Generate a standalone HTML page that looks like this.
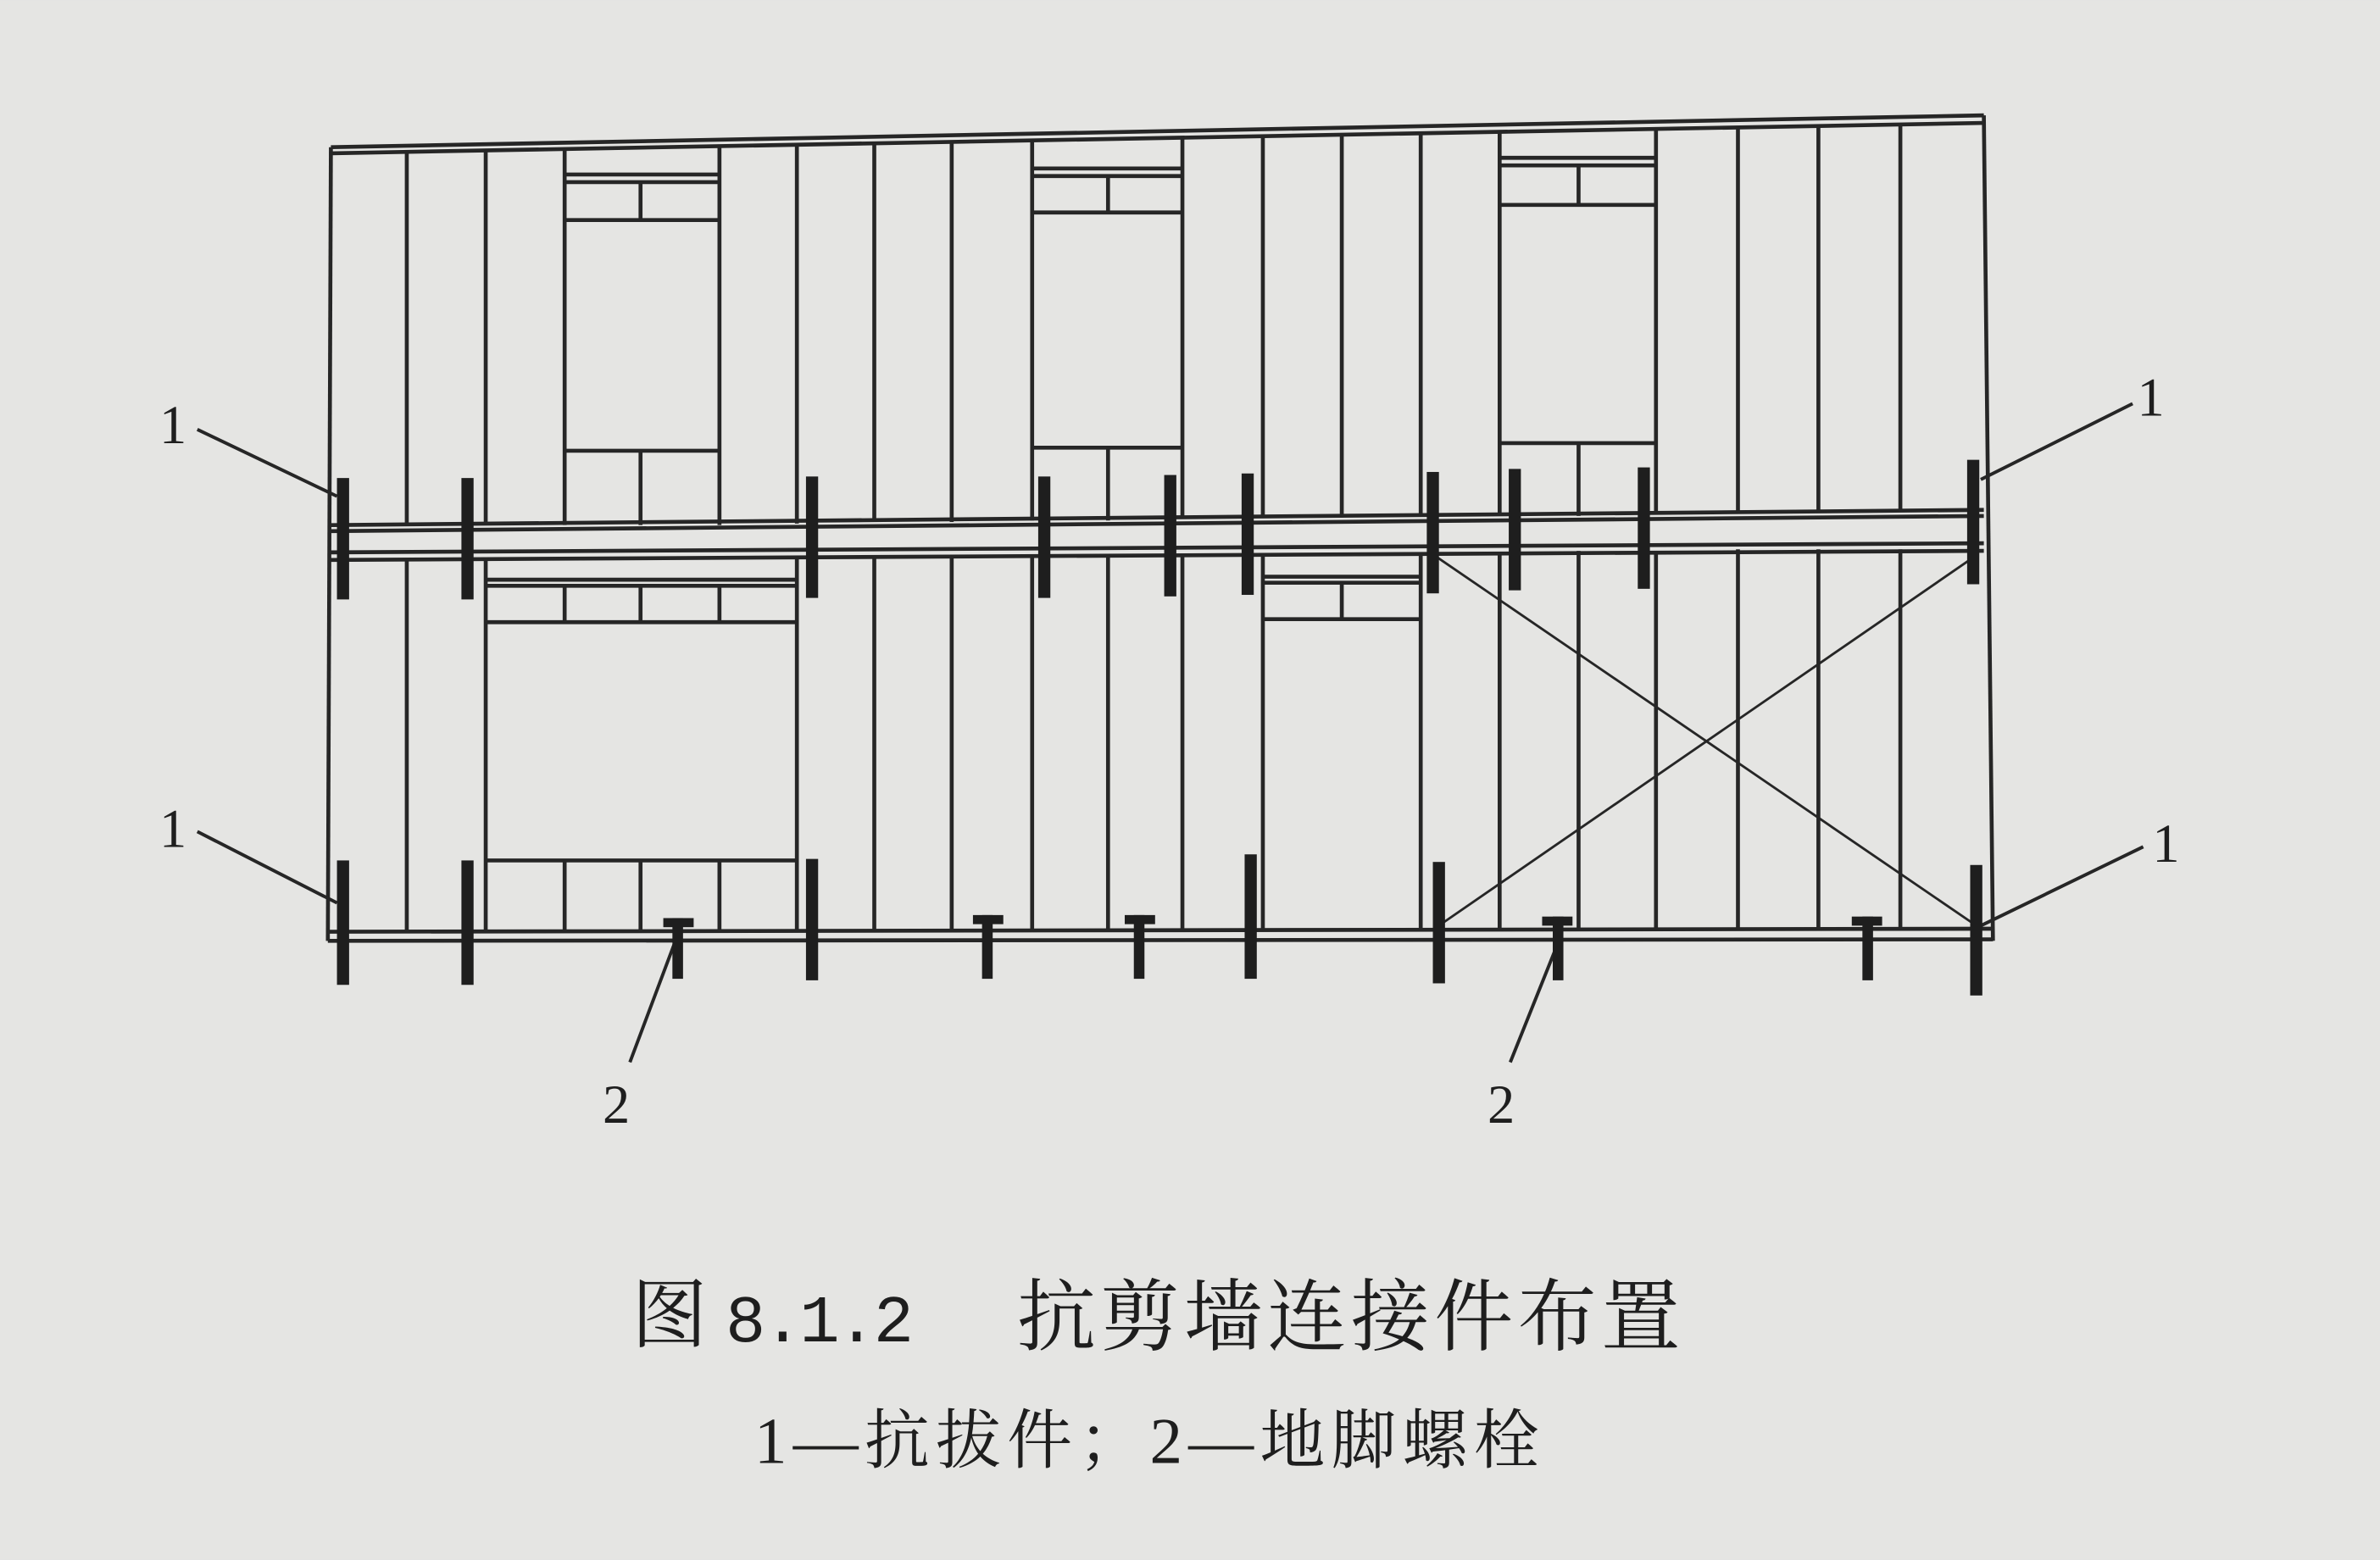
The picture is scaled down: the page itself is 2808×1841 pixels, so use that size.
<!DOCTYPE html>
<html><head><meta charset="utf-8"><style>
html,body{margin:0;padding:0;background:#e5e5e3;}
svg{display:block}
</style></head><body>
<svg width="2808" height="1841" viewBox="0 0 1568 1028" xmlns="http://www.w3.org/2000/svg">
<rect width="1568" height="1028" fill="#e5e5e3"/>
<g stroke="#262626" fill="none" stroke-width="2.6">
<line x1="218" y1="97" x2="1307" y2="76"/>
<line x1="218" y1="101" x2="1307" y2="81"/>
<line x1="218" y1="97" x2="216" y2="620"/>
<line x1="1307" y1="76" x2="1313" y2="620"/>
<line x1="216" y1="614" x2="1313" y2="612"/>
<line x1="216" y1="620" x2="1313" y2="619"/>
<line x1="218" y1="346" x2="1307" y2="336"/>
<line x1="218" y1="350" x2="1307" y2="340"/>
<line x1="218" y1="364" x2="1307" y2="358"/>
<line x1="218" y1="369" x2="1307" y2="363"/>
<g>
<line x1="268" y1="100" x2="268" y2="346"/><line x1="320" y1="99" x2="320" y2="346"/>
<line x1="372" y1="98" x2="372" y2="346"/><line x1="474" y1="97" x2="474" y2="346"/>
<line x1="525" y1="96" x2="525" y2="345"/><line x1="576" y1="95" x2="576" y2="344"/>
<line x1="627" y1="94" x2="627" y2="344"/><line x1="680" y1="93" x2="680" y2="343"/>
<line x1="779" y1="91" x2="779" y2="342"/><line x1="832" y1="90" x2="832" y2="341"/>
<line x1="884" y1="89" x2="884" y2="341"/><line x1="936" y1="88" x2="936" y2="340"/>
<line x1="988" y1="87" x2="988" y2="340"/><line x1="1091" y1="85" x2="1091" y2="339"/>
<line x1="1145" y1="84" x2="1145" y2="338"/><line x1="1198" y1="83" x2="1198" y2="338"/>
<line x1="1252" y1="82" x2="1252" y2="337"/>
</g>
<line x1="372" y1="115" x2="474" y2="115"/><line x1="372" y1="120" x2="474" y2="120"/>
<line x1="372" y1="145" x2="474" y2="145"/><line x1="422" y1="120" x2="422" y2="145"/>
<line x1="372" y1="297" x2="474" y2="297"/><line x1="422" y1="297" x2="422" y2="346"/>
<line x1="680" y1="111" x2="779" y2="111"/><line x1="680" y1="116" x2="779" y2="116"/>
<line x1="680" y1="140" x2="779" y2="140"/><line x1="730" y1="116" x2="730" y2="140"/>
<line x1="680" y1="295" x2="779" y2="295"/><line x1="730" y1="295" x2="730" y2="343"/>
<line x1="988" y1="104" x2="1091" y2="104"/><line x1="988" y1="109" x2="1091" y2="109"/>
<line x1="988" y1="135" x2="1091" y2="135"/><line x1="1040" y1="109" x2="1040" y2="135"/>
<line x1="988" y1="292" x2="1091" y2="292"/><line x1="1040" y1="292" x2="1040" y2="340"/>
<g>
<line x1="268" y1="369" x2="268" y2="614"/><line x1="320" y1="369" x2="320" y2="614"/>
<line x1="525" y1="367" x2="525" y2="614"/><line x1="576" y1="367" x2="576" y2="614"/>
<line x1="627" y1="366" x2="627" y2="614"/><line x1="680" y1="366" x2="680" y2="614"/>
<line x1="730" y1="366" x2="730" y2="613"/><line x1="779" y1="365" x2="779" y2="613"/>
<line x1="832" y1="365" x2="832" y2="613"/><line x1="936" y1="364" x2="936" y2="613"/>
<line x1="988" y1="364" x2="988" y2="613"/><line x1="1040" y1="363" x2="1040" y2="613"/>
<line x1="1091" y1="363" x2="1091" y2="613"/><line x1="1145" y1="362" x2="1145" y2="613"/>
<line x1="1198" y1="362" x2="1198" y2="612"/><line x1="1252" y1="362" x2="1252" y2="612"/>
</g>
<line x1="320" y1="382" x2="525" y2="382"/><line x1="320" y1="386" x2="525" y2="386"/>
<line x1="320" y1="410" x2="525" y2="410"/>
<line x1="372" y1="386" x2="372" y2="410"/><line x1="422" y1="386" x2="422" y2="410"/><line x1="474" y1="386" x2="474" y2="410"/>
<line x1="320" y1="567" x2="525" y2="567"/>
<line x1="372" y1="567" x2="372" y2="614"/><line x1="422" y1="567" x2="422" y2="614"/><line x1="474" y1="567" x2="474" y2="614"/>
<line x1="832" y1="380" x2="936" y2="380"/><line x1="832" y1="384" x2="936" y2="384"/>
<line x1="832" y1="408" x2="936" y2="408"/><line x1="884" y1="384" x2="884" y2="408"/>
<line x1="945" y1="366" x2="1305" y2="612" stroke-width="1.6"/>
<line x1="945" y1="612" x2="1302" y2="366" stroke-width="1.6"/>
<line x1="130" y1="283" x2="222" y2="327" stroke-width="2.2"/>
<line x1="1405" y1="266" x2="1305" y2="316" stroke-width="2.2"/>
<line x1="130" y1="548" x2="222" y2="595" stroke-width="2.2"/>
<line x1="1412" y1="558" x2="1305" y2="610" stroke-width="2.2"/>
<line x1="445" y1="620" x2="415" y2="700" stroke-width="2.2"/>
<line x1="1027" y1="620" x2="995" y2="700" stroke-width="2.2"/>
</g>
<g fill="#1e1e1e">
<rect x="222" y="315" width="8" height="80"/><rect x="304" y="315" width="8" height="80"/>
<rect x="531" y="314" width="8" height="80"/><rect x="684" y="314" width="8" height="80"/>
<rect x="767" y="313" width="8" height="80"/><rect x="818" y="312" width="8" height="80"/>
<rect x="940" y="311" width="8" height="80"/><rect x="994" y="309" width="8" height="80"/>
<rect x="1079" y="308" width="8" height="80"/><rect x="1296" y="303" width="8" height="82"/>
<rect x="222" y="567" width="8" height="82"/><rect x="304" y="567" width="8" height="82"/>
<rect x="531" y="566" width="8" height="80"/><rect x="820" y="563" width="8" height="82"/>
<rect x="944" y="568" width="8" height="80"/><rect x="1298" y="570" width="8" height="86"/>
<rect x="437" y="605" width="20" height="6"/><rect x="443" y="605" width="7" height="40"/>
<rect x="641" y="603" width="20" height="6"/><rect x="647" y="603" width="7" height="42"/>
<rect x="741" y="603" width="20" height="6"/><rect x="747" y="603" width="7" height="42"/>
<rect x="1016" y="604" width="20" height="6"/><rect x="1023" y="604" width="7" height="42"/>
<rect x="1220" y="604" width="20" height="6"/><rect x="1227" y="604" width="7" height="42"/>
</g>
<g font-family="Liberation Serif, serif" font-size="36" fill="#1e1e1e">
<text x="105" y="292">1</text>
<text x="1408" y="274">1</text>
<text x="105" y="558">1</text>
<text x="1418" y="568">1</text>
<text x="397" y="740">2</text>
<text x="980" y="740">2</text>
</g>
<text x="416" y="884" font-family="'Noto Serif CJK SC', serif" font-size="50" fill="#1e1e1e">图</text>
<text x="478" y="884" font-family="Liberation Mono, monospace" font-size="44" fill="#1e1e1e" letter-spacing="-2">8.1.2</text>
<text x="670" y="886" font-family="'Noto Serif CJK SC', serif" font-size="52" fill="#1e1e1e" letter-spacing="3">抗剪墙连接件布置</text>
<text x="497" y="964" font-family="Liberation Serif, 'Noto Serif CJK SC', serif" font-size="43" fill="#1e1e1e" letter-spacing="4">1—抗拔件；2—地脚螺栓</text>
</svg>
</body></html>
